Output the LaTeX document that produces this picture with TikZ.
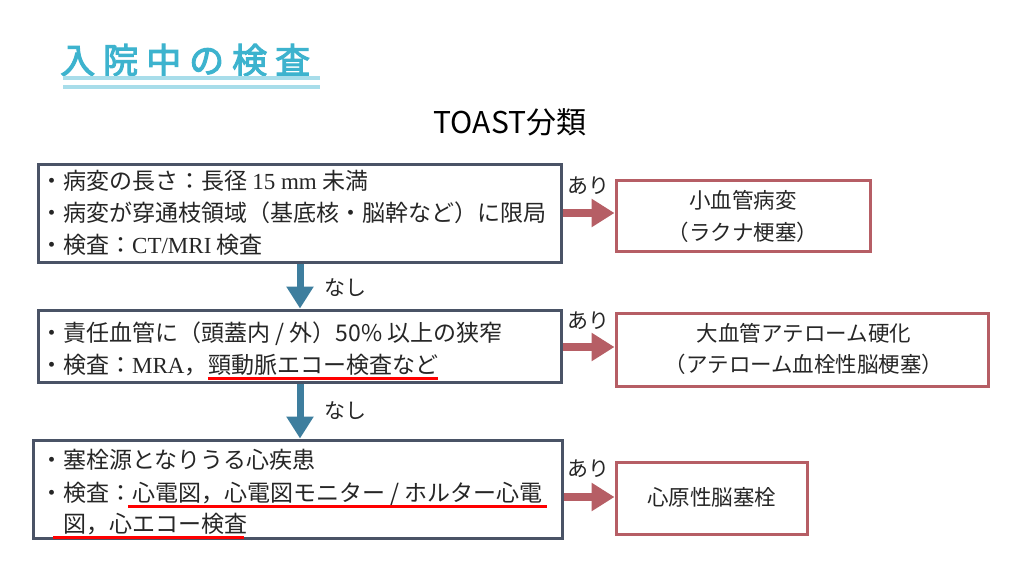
\documentclass[tikz,border=0pt]{standalone}
\usepackage{fontspec}
\setmainfont{Noto Sans CJK JP}
\newfontfamily\lmr{Liberation Serif}
\newfontfamily\titlefont[FakeBold=3]{Noto Sans CJK JP}
\usetikzlibrary{arrows.meta}
\definecolor{ink}{HTML}{262626}
\definecolor{boxc}{HTML}{4A5366}
\definecolor{redc}{HTML}{B65E65}
\definecolor{bluec}{HTML}{3E7E9E}
\definecolor{titlec}{HTML}{3DB3CE}
\definecolor{tlinec}{HTML}{A8DDEA}
\tikzset{
 body/.style={inner sep=0pt, anchor=west, font=\fontsize{23}{28}\selectfont, text height=20.2pt, text depth=2.8pt, text=ink},
 res/.style={inner sep=0pt, font=\fontsize{21.5}{26}\selectfont, text height=18.9pt, text depth=2.6pt, text=ink},
 lab/.style={inner sep=0pt, font=\fontsize{21}{25}\selectfont, text height=18.5pt, text depth=2.5pt, text=ink},
 flowbox/.style={draw=boxc, line width=3pt, inner sep=0pt},
 resbox/.style={draw=redc, line width=3pt, inner sep=0pt},
 redarrow/.style={draw=redc, line width=8pt, -{Triangle[width=27pt,length=23pt]}},
 bluearrow/.style={draw=bluec, line width=7pt, -{Triangle[width=26pt,length=22pt]}},
 uline/.style={draw=red, line width=3.5pt},
 tline/.style={draw=tlinec, line width=3.5pt},
}
\begin{document}
\begin{tikzpicture}[x=1pt,y=-1pt]
\useasboundingbox (0,0) rectangle (1024,576);
\fill[white] (0,0) rectangle (1024,576);

% title
\node[anchor=west, inner sep=0pt, font=\titlefont\fontsize{35}{40}\selectfont, text=titlec, text height=30.8pt, text depth=4.2pt] (title) at (60,60) {入\hspace{8pt}院\hspace{8pt}中\hspace{8pt}の\hspace{8pt}検\hspace{8pt}査};
\draw[tline] (63,78) -- (320,78);
\draw[tline] (63,87) -- (320,87);

\node[inner sep=0pt, font=\fontsize{30}{36}\selectfont, text height=26.4pt, text depth=3.6pt, text=black] (toast) at (510,122) {TOAST分類};

% boxes
\node[flowbox, minimum width=523, minimum height=98] (b1) at (299.5,213) {};
\node[flowbox, minimum width=523, minimum height=72] (b2) at (299.5,346) {};
\node[flowbox, minimum width=529, minimum height=98] (b3) at (297.5,489) {};
\node[resbox, minimum width=254, minimum height=71] (rA) at (743,215.5) {};
\node[resbox, minimum width=372, minimum height=73] (rB) at (802,349.5) {};
\node[resbox, minimum width=191, minimum height=72] (rC) at (711.5,498) {};

% box 1 text
\node[body] (t11) at (40,181) {・病変の長さ：長径 {\lmr 15 mm} 未満};
\node[body] (t12) at (40,213) {・病変が穿通枝領域（基底核・脳幹など）に限局};
\node[body] (t13) at (40,245) {・検査：{\lmr CT/MRI} 検査};

% box 2 text
\node[body] (t21) at (40,333) {・責任血管に（頭蓋内 / 外）50\% 以上の狭窄};
\node[body] (t22) at (40,365) {・検査：{\lmr MRA}，\hspace{3pt}};
\node[body] (u22) at (t22.east) {頸動脈エコー検査など};
\draw[uline] ([yshift=-2pt]u22.south west) -- ([yshift=-2pt]u22.south east);

% box 3 text
\node[body] (t31) at (40,460) {・塞栓源となりうる心疾患};
\node[body] (t32) at (40,493) {・検査：};
\node[body] (u32) at (t32.east) {心電図，心電図モニター / ホルター心電};
\node[body] (u33) at (63,524) {図，心エコー検査};
\draw[uline] ([xshift=-4pt,yshift=-2pt]u32.south west) -- ([xshift=4pt,yshift=-2pt]u32.south east);
\draw[uline] ([xshift=-10pt,yshift=-2pt]u33.south west) -- ([xshift=-3pt,yshift=-2pt]u33.south east);

% result texts
\node[res] (ra1) at (743,200) {小血管病変};
\node[res] (ra2) at (743,232) {（ラクナ梗塞）};
\node[res] (rb1) at (804,333) {大血管アテローム硬化};
\node[res] (rb2) at (804,364) {（アテローム血栓性脳梗塞）};
\node[res] (rc1) at (711.5,497) {心原性脳塞栓};

% arrows
\coordinate (xa) at (300,0);
\coordinate (y3) at (0,497);
\draw[bluearrow] (b1.south -| xa) -- (b2.north -| xa);
\draw[bluearrow] (b2.south -| xa) -- (b3.north -| xa);
\draw[redarrow] (b1.east) -- (b1.east -| rA.west);
\draw[redarrow] ([yshift=-1pt]b2.east) -- ([yshift=-1pt]b2.east -| rB.west);
\draw[redarrow] (b3.east |- y3) -- (rC.west |- y3);

% labels
\node[lab] (l1) at (588,185) {あり};
\node[lab] (l2) at (588,320) {あり};
\node[lab] (l3) at (588,468) {あり};
\node[lab] (n1) at (345,287) {なし};
\node[lab] (n2) at (345,410) {なし};
\end{tikzpicture}
\end{document}
